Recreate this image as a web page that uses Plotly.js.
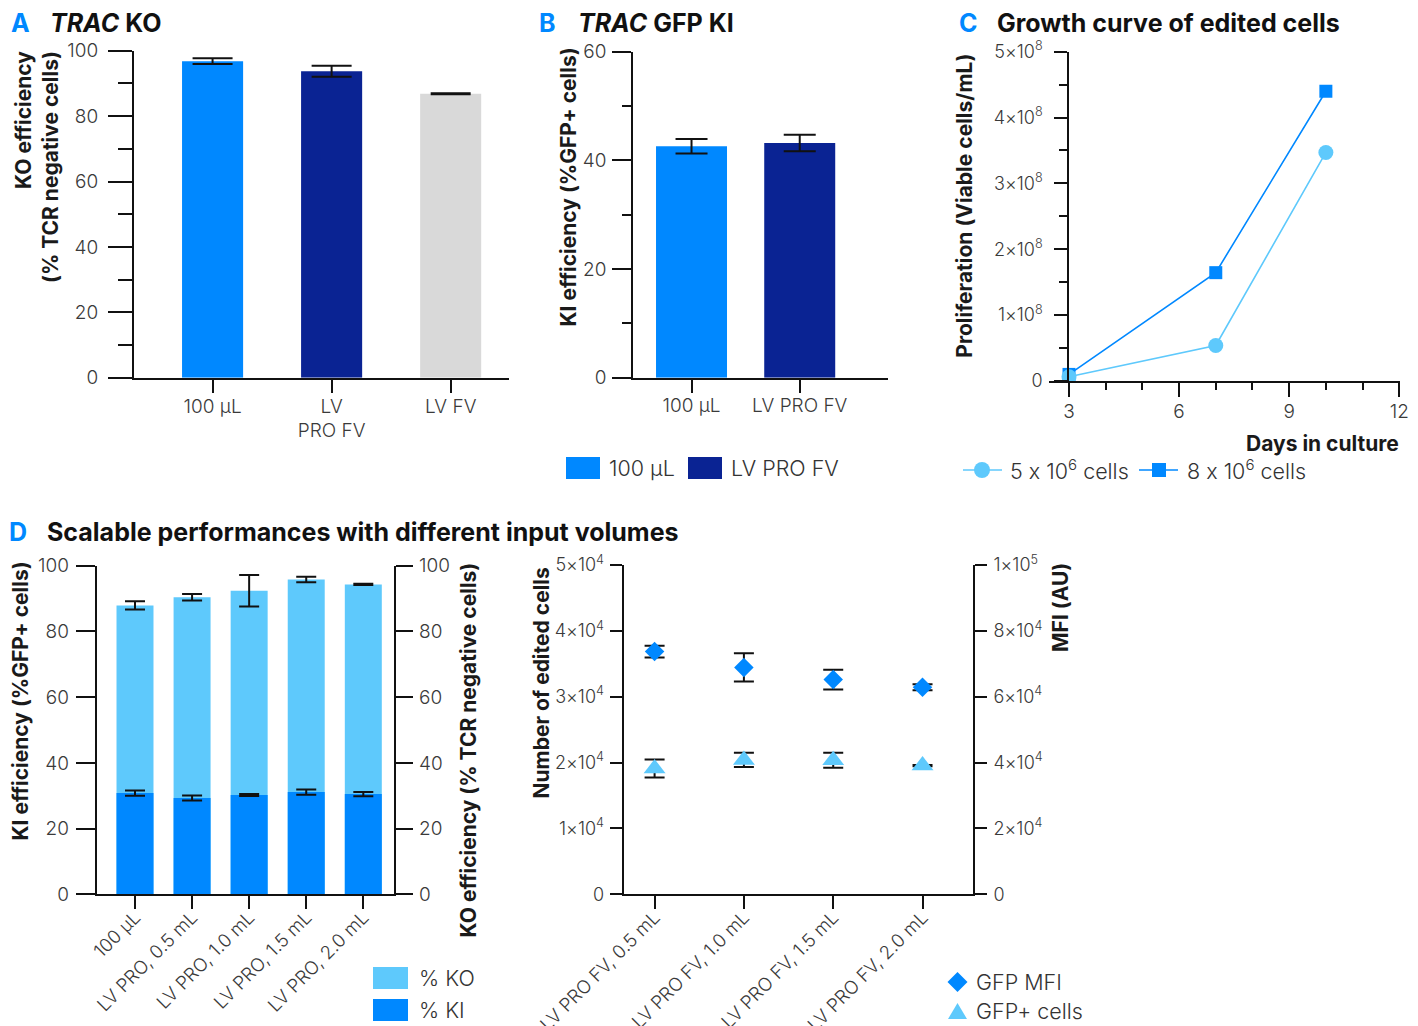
<!DOCTYPE html>
<html>
<head>
<meta charset="utf-8">
<script src="https://cdn.plot.ly/plotly-3.0.1.min.js"></script>
<style>html,body{margin:0;padding:0;background:#fff;}#chart{width:1418px;height:1026px;}
svg text{font-feature-settings:"calt" 0;}</style>
</head>
<body>
<div id="chart"></div>
<script>
// ---------- DATA ----------
const catsA = ['100 µL', 'LV<br>PRO FV', 'LV FV'];
const koA = [96.8, 93.7, 86.8];
const koAErr = [0.9, 1.7, 0.15];

const catsB = ['100 µL', 'LV PRO FV'];
const kiB = [42.6, 43.2];
const kiBErr = [1.35, 1.5];

const daysC = [3, 7, 10];
const cells5e6 = [6.5e6, 5.4e7, 3.47e8];
const cells8e6 = [1.0e7, 1.645e8, 4.40e8];

const catsD1 = ['100 µL', 'LV PRO, 0.5 mL', 'LV PRO, 1.0 mL', 'LV PRO, 1.5 mL', 'LV PRO, 2.0 mL'];
const koD = [87.9, 90.4, 92.4, 95.8, 94.3];
const koDErr = [1.25, 1.0, 4.8, 0.8, 0.2];
const kiD = [30.8, 29.3, 30.2, 31.1, 30.5];
const kiDErr = [0.8, 0.75, 0.3, 0.8, 0.65];

const catsD2 = ['LV PRO FV, 0.5 mL', 'LV PRO FV, 1.0 mL', 'LV PRO FV, 1.5 mL', 'LV PRO FV, 2.0 mL'];
const gfpMfi = [7.37e4, 6.89e4, 6.52e4, 6.29e4];
const gfpMfiErr = [0.18e4, 0.43e4, 0.30e4, 0.09e4];
const gfpCells = [1.91e4, 2.04e4, 2.035e4, 1.955e4];
const gfpCellsErr = [0.137e4, 0.108e4, 0.114e4, 0.01e4];

const tickC = [0, 1e8, 2e8, 3e8, 4e8, 5e8];
const tickCText = ['0', '1×10<sup>8</sup>', '2×10<sup>8</sup>', '3×10<sup>8</sup>', '4×10<sup>8</sup>', '5×10<sup>8</sup>'];
const tickD2L = [0, 1e4, 2e4, 3e4, 4e4, 5e4];
const tickD2LText = ['0', '1×10<sup>4</sup>', '2×10<sup>4</sup>', '3×10<sup>4</sup>', '4×10<sup>4</sup>', '5×10<sup>4</sup>'];
const tickD2R = [0, 2e4, 4e4, 6e4, 8e4, 1e5];
const tickD2RText = ['0', '2×10<sup>4</sup>', '4×10<sup>4</sup>', '6×10<sup>4</sup>', '8×10<sup>4</sup>', '1×10<sup>5</sup>'];

// ---------- STYLE ----------
const BLUE = '#0088FF', NAVY = '#0A2393', GRAY = '#D9D9D9', LIGHT = '#5EC9FC';
const FONT = 'Inter, "Noto Sans", "DejaVu Sans", sans-serif';
const TICKC = '#3a3a3a';
const W = 1418, H = 1026;
const fx = p => p / W;
const fy = p => 1 - p / H;
const tf = s => ({size: s, color: TICKC, family: FONT, weight: 300});

function ax(extra) {
  return Object.assign({
    showline: true, linecolor: '#111', linewidth: 2,
    ticks: 'outside', tickcolor: '#111', tickwidth: 2,
    showgrid: false, zeroline: false, fixedrange: true,
    tickfont: tf(19)
  }, extra);
}
const errStyle = (arr, w) => ({type: 'data', array: arr, visible: true, color: '#111', thickness: 2, width: w});

// ---------- TRACES ----------
const traces = [
  {type: 'bar', x: catsA, y: koA, xaxis: 'x', yaxis: 'y', width: 0.513,
   marker: {color: [BLUE, NAVY, GRAY], line: {width: 0}}, error_y: errStyle(koAErr, 20), hoverinfo: 'y'},
  {type: 'bar', x: catsB, y: kiB, xaxis: 'x2', yaxis: 'y2', width: 0.656,
   marker: {color: [BLUE, NAVY], line: {width: 0}}, error_y: errStyle(kiBErr, 16), hoverinfo: 'y'},
  {type: 'scatter', mode: 'lines+markers', x: daysC, y: cells8e6, xaxis: 'x3', yaxis: 'y3',
   line: {color: BLUE, width: 1.6}, marker: {symbol: 'square', size: 13, color: BLUE}, name: '8 x 10^6 cells'},
  {type: 'scatter', mode: 'lines+markers', x: daysC, y: cells5e6, xaxis: 'x3', yaxis: 'y3',
   line: {color: LIGHT, width: 1.6}, marker: {symbol: 'circle', size: 15, color: LIGHT}, name: '5 x 10^6 cells'},
  {type: 'bar', x: catsD1, y: koD, xaxis: 'x4', yaxis: 'y5', width: 0.648, name: '% KO',
   marker: {color: LIGHT, line: {width: 0}}, error_y: errStyle(koDErr, 10)},
  {type: 'bar', x: catsD1, y: kiD, xaxis: 'x4', yaxis: 'y4', width: 0.648, name: '% KI',
   marker: {color: BLUE, line: {width: 0}}, error_y: errStyle(kiDErr, 10)},
  {type: 'scatter', mode: 'markers', x: catsD2, y: gfpCells, xaxis: 'x5', yaxis: 'y6', name: 'GFP+ cells',
   marker: {symbol: 'triangle-up', size: 19, color: LIGHT}, error_y: errStyle(gfpCellsErr, 10)},
  {type: 'scatter', mode: 'markers', x: catsD2, y: gfpMfi, xaxis: 'x5', yaxis: 'y7', name: 'GFP MFI',
   marker: {symbol: 'diamond', size: 15, color: BLUE}, error_y: errStyle(gfpMfiErr, 10)}
];

// ---------- AXES ----------
const layout = {
  width: W, height: H, margin: {l: 0, r: 0, t: 0, b: 0},
  paper_bgcolor: '#fff', plot_bgcolor: 'rgba(0,0,0,0)',
  showlegend: false, barmode: 'overlay',
  font: {family: FONT, color: '#222'},

  xaxis: ax({domain: [fx(134), fx(509)], anchor: 'y', type: 'category', range: [-0.66, 2.49], ticklen: 13, ticklabelstandoff: -3}),
  yaxis: ax({domain: [fy(377.7), fy(50.7)], anchor: 'x', range: [0, 100], tickvals: [0, 20, 40, 60, 80, 100], ticklen: 24, ticklabelstandoff: 6,
    minor: {tickvals: [10, 30, 50, 70, 90], ticklen: 14, tickwidth: 2, tickcolor: '#111', ticks: 'outside'}}),

  xaxis2: ax({domain: [fx(633.3), fx(887.7)], anchor: 'y2', type: 'category', range: [-0.538, 1.813], ticklen: 13, ticklabelstandoff: -4}),
  yaxis2: ax({domain: [fy(377.7), fy(51.7)], anchor: 'x2', range: [0, 60], tickvals: [0, 20, 40, 60], ticklen: 19, ticklabelstandoff: 2,
    minor: {tickvals: [10, 30, 50], ticklen: 9, tickwidth: 2, tickcolor: '#111', ticks: 'outside'}}),

  xaxis3: ax({domain: [fx(1049), fx(1400)], anchor: 'y3', range: [2.455, 12.02], tickvals: [3, 6, 9, 12], ticklen: 14, ticklabelstandoff: -2,
    minor: {tickvals: [4, 5, 7, 8, 10, 11], ticklen: 7, tickwidth: 2, tickcolor: '#111', ticks: 'outside'}}),
  yaxis3: ax({domain: [fy(381), fy(51.7)], anchor: 'free', position: fx(1068.3), range: [0, 5e8], tickvals: tickC, ticktext: tickCText, ticklen: 13, ticklabelstandoff: 8,
    tickfont: tf(18),
    minor: {tickvals: [0.5e8, 1.5e8, 2.5e8, 3.5e8, 4.5e8], ticklen: 8, tickwidth: 2, tickcolor: '#111', ticks: 'outside'}}),

  xaxis4: ax({domain: [fx(96.7), fx(394.3)], anchor: 'y5', type: 'category', range: [-0.671, 4.543], ticklen: 13, tickangle: -45, ticklabelstandoff: -10,
    tickfont: tf(18.5)}),
  yaxis5: ax({domain: [fy(894.3), fy(565.7)], anchor: 'x4', side: 'right', range: [0, 100], tickvals: [0, 20, 40, 60, 80, 100], ticklen: 17, ticklabelstandoff: 2}),
  yaxis4: ax({domain: [fy(894.3), fy(565.7)], anchor: 'x4', overlaying: 'y5', side: 'left', range: [0, 100], tickvals: [0, 20, 40, 60, 80, 100], ticklen: 19, ticklabelstandoff: 3}),

  xaxis5: ax({domain: [fx(623.6), fx(972.9)], anchor: 'y6', type: 'category', range: [-0.347, 3.564], ticklen: 13, tickangle: -45, ticklabelstandoff: -10,
    tickfont: tf(18.5)}),
  yaxis6: ax({domain: [fy(894.3), fy(565)], anchor: 'x5', range: [0, 5e4], tickvals: tickD2L, ticktext: tickD2LText, ticklen: 12, ticklabelstandoff: 2,
    tickfont: tf(18)}),
  yaxis7: ax({domain: [fy(894.3), fy(565)], anchor: 'x5', overlaying: 'y6', side: 'right', range: [0, 1e5], tickvals: tickD2R, ticktext: tickD2RText, ticklen: 12, ticklabelstandoff: 3,
    tickfont: tf(18)}),

  annotations: [],
  shapes: []
};

// ---------- TEXT (paper px helpers) ----------
function ann(text, x, y, o) {
  layout.annotations.push(Object.assign({
    text: text, x: fx(x), y: fy(y), xref: 'paper', yref: 'paper', showarrow: false,
    xanchor: 'left', yanchor: 'middle', font: {family: FONT, size: 24, color: '#111'}
  }, o || {}));
}
const panelFont = {family: FONT, size: 25, color: BLUE};
const titleFont = {family: FONT, size: 25, color: '#111'};
const axFont = {family: FONT, size: 21, color: '#1a1a1a'};
const legFont = {family: FONT, size: 21.5, color: '#333', weight: 300};

// panel letters & titles
ann('<b>A</b>', 9, 23, {font: panelFont});
ann('<b><i>TRAC</i> KO</b>', 48, 23, {font: titleFont});
ann('<b>B</b>', 537, 23, {font: panelFont});
ann('<b><i>TRAC</i> GFP KI</b>', 576, 23, {font: titleFont});
ann('<b>C</b>', 957, 23, {font: panelFont});
ann('<b>Growth curve of edited cells</b>', 995, 23, {font: titleFont});
ann('<b>D</b>', 7, 532, {font: panelFont});
ann('<b>Scalable performances with different input volumes</b>', 45, 532, {font: titleFont});

// axis titles
const rot = {textangle: -90, xanchor: 'center', yanchor: 'middle', font: axFont};
ann('<b>KO efficiency<br>(% TCR negative cells)</b>', 37.5, 167.5, Object.assign({align: 'right'}, rot));
ann('<b>KI efficiency (%GFP+ cells)</b>', 568, 187.5, rot);
ann('<b>Proliferation (Viable cells/mL)</b>', 965, 205.7, rot);
ann('<b>Days in culture</b>', 1401, 443, {xanchor: 'right', font: axFont});
ann('<b>KI efficiency (%GFP+ cells)</b>', 20, 701.5, rot);
ann('<b>KO efficiency (% TCR negative cells)</b>', 468, 750.5, rot);
ann('<b>Number of edited cells</b>', 540.6, 683, rot);
ann('<b>MFI (AU)</b>', 1060, 608, rot);

// ---------- LEGENDS (glyphs as shapes) ----------
function rect(x0, y0, x1, y1, color) {
  layout.shapes.push({type: 'rect', xref: 'paper', yref: 'paper', x0: fx(x0), x1: fx(x1), y0: fy(y1), y1: fy(y0), fillcolor: color, line: {width: 0}});
}
function seg(x0, x1, y, color) {
  layout.shapes.push({type: 'line', xref: 'paper', yref: 'paper', x0: fx(x0), x1: fx(x1), y0: fy(y), y1: fy(y), line: {color: color, width: 1.6}});
}
function path(pts, color) {
  const d = 'M' + pts.map(p => fx(p[0]) + ',' + fy(p[1])).join('L') + 'Z';
  layout.shapes.push({type: 'path', xref: 'paper', yref: 'paper', path: d, fillcolor: color, line: {width: 0}});
}
function circle(cx, cy, r, color) {
  layout.shapes.push({type: 'circle', xref: 'paper', yref: 'paper', x0: fx(cx - r), x1: fx(cx + r), y0: fy(cy + r), y1: fy(cy - r), fillcolor: color, line: {width: 0}});
}

// B legend
rect(566, 457, 600, 479, BLUE);
ann('100 µL', 607, 468, {font: legFont});
rect(688, 457, 722, 479, NAVY);
ann('LV PRO FV', 729, 468, {font: legFont});

// C legend
seg(963, 1002, 470, LIGHT);
circle(982, 470, 8, LIGHT);
ann('5 x 10<sup>6</sup> cells', 1008, 469, {font: legFont});
seg(1139, 1178, 470, BLUE);
path([[1152, 463], [1166, 463], [1166, 477], [1152, 477]], BLUE);
ann('8 x 10<sup>6</sup> cells', 1185, 469, {font: legFont});

// D left legend
rect(373, 967, 408, 989, LIGHT);
ann('% KO', 417, 978, {font: legFont});
rect(373, 999, 408, 1021, BLUE);
ann('% KI', 417, 1010, {font: legFont});

// D right legend
path([[957.5, 972], [967.5, 982], [957.5, 992], [947.5, 982]], BLUE);
ann('GFP MFI', 974, 982, {font: legFont});
path([[957.5, 1003], [967, 1019], [948, 1019]], LIGHT);
ann('GFP+ cells', 974, 1011, {font: legFont});

Plotly.newPlot('chart', traces, layout, {displayModeBar: false, staticPlot: true});
</script>
</body>
</html>
